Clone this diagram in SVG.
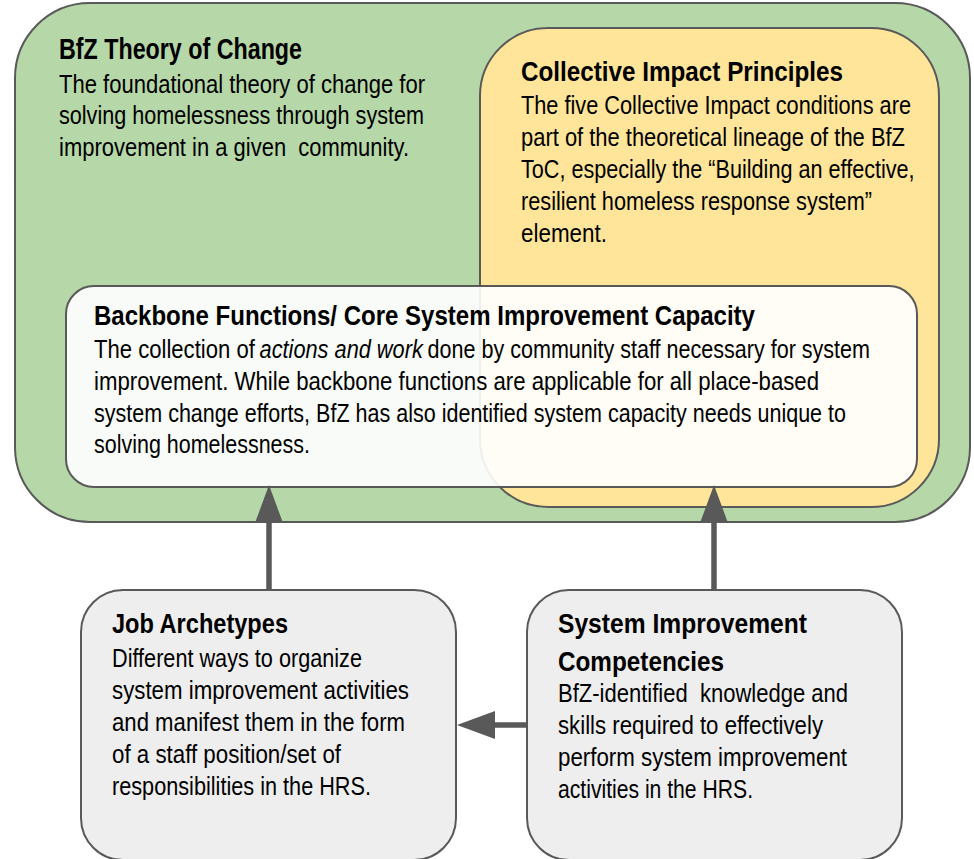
<svg xmlns="http://www.w3.org/2000/svg" width="974" height="859" viewBox="0 0 974 859">
  <style>
    .box { stroke: #595959; stroke-width: 2; }
    .green { fill: #b6d7a8; }
    .yellow { fill: #ffe599; }
    .core { fill: #ffffff; fill-opacity: 0.9; }
    .grey { fill: #eeeeee; }
    text { font-family: "Liberation Sans", Arial, sans-serif; fill: #000000; }
    .title { font-size: 28px; font-weight: bold; }
    .body { font-size: 25px; }
    .it { font-style: italic; }
    .link { stroke: #595959; stroke-width: 5.5; fill: none; }
  </style>
  <defs>
    <marker id="head" viewBox="0 0 38 28" refX="0" refY="14" markerWidth="38" markerHeight="28" markerUnits="userSpaceOnUse" orient="auto">
      <path d="M0,0 L38,14 L0,28 Z" fill="#595959"/>
    </marker>
  </defs>

  <!-- Outer container: BfZ Theory of Change -->
  <g id="theory-of-change">
    <rect class="box green" x="15" y="3" width="955" height="519" rx="75" ry="75"/>
    <text class="title" x="59" y="59" textLength="243" lengthAdjust="spacingAndGlyphs" style="font-size:29px">BfZ Theory of Change</text>
    <text class="body" x="59" y="93" textLength="366" lengthAdjust="spacingAndGlyphs">The foundational theory of change for</text>
    <text class="body" x="59" y="124" textLength="365" lengthAdjust="spacingAndGlyphs">solving homelessness through system</text>
    <text class="body" x="59" y="156" textLength="350" lengthAdjust="spacingAndGlyphs" xml:space="preserve">improvement in a given  community.</text>
  </g>

  <!-- Collective Impact Principles -->
  <g id="collective-impact">
    <rect class="box yellow" x="480" y="28" width="459" height="479" rx="68" ry="68"/>
    <text class="title" x="521" y="81" textLength="322" lengthAdjust="spacingAndGlyphs">Collective Impact Principles</text>
    <text class="body" x="521" y="114" textLength="390" lengthAdjust="spacingAndGlyphs">The five Collective Impact conditions are</text>
    <text class="body" x="521" y="146" textLength="384" lengthAdjust="spacingAndGlyphs">part of the theoretical lineage of the BfZ</text>
    <!-- narrow face: compressed horizontally around its own origin -->
    <text class="body" transform="translate(521 178) scale(0.8 1)" x="0" y="0" textLength="492" lengthAdjust="spacingAndGlyphs">ToC, especially the “Building an effective,</text>
    <text class="body" x="521" y="210" textLength="351" lengthAdjust="spacingAndGlyphs">resilient homeless response system”</text>
    <text class="body" x="521" y="242" textLength="86" lengthAdjust="spacingAndGlyphs">element.</text>
  </g>

  <!-- Backbone Functions / Core System Improvement Capacity -->
  <g id="backbone-functions">
    <rect class="box core" x="66" y="286" width="851" height="201" rx="28" ry="28"/>
    <text class="title" x="94" y="325" textLength="661" lengthAdjust="spacingAndGlyphs">Backbone Functions/ Core System Improvement Capacity</text>
    <g transform="translate(94 358) scale(0.8 1)">
      <text class="body" x="0" y="0" textLength="201" lengthAdjust="spacingAndGlyphs">The collection of</text>
      <text class="body it" x="207" y="0" textLength="204" lengthAdjust="spacingAndGlyphs">actions and work</text>
      <text class="body" x="417" y="0" textLength="553" lengthAdjust="spacingAndGlyphs">done by community staff necessary for system</text>
    </g>
    <text class="body" x="94" y="390" textLength="725" lengthAdjust="spacingAndGlyphs">improvement. While backbone functions are applicable for all place-based</text>
    <text class="body" x="94" y="422" textLength="752" lengthAdjust="spacingAndGlyphs">system change efforts, BfZ has also identified system capacity needs unique to</text>
    <text class="body" x="94" y="453" textLength="216" lengthAdjust="spacingAndGlyphs">solving homelessness.</text>
  </g>

  <!-- Job Archetypes -->
  <g id="job-archetypes">
    <rect class="box grey" x="81" y="590" width="375" height="270" rx="42" ry="42"/>
    <text class="title" x="112" y="633" textLength="176" lengthAdjust="spacingAndGlyphs">Job Archetypes</text>
    <text class="body" x="112" y="667" textLength="250" lengthAdjust="spacingAndGlyphs">Different ways to organize</text>
    <text class="body" x="112" y="699" textLength="297" lengthAdjust="spacingAndGlyphs">system improvement activities</text>
    <text class="body" x="112" y="731" textLength="293" lengthAdjust="spacingAndGlyphs">and manifest them in the form</text>
    <text class="body" x="112" y="763" textLength="229" lengthAdjust="spacingAndGlyphs">of a staff position/set of</text>
    <text class="body" x="112" y="795" textLength="259" lengthAdjust="spacingAndGlyphs">responsibilities in the HRS.</text>
  </g>

  <!-- System Improvement Competencies -->
  <g id="system-improvement-competencies">
    <rect class="box grey" x="527" y="590" width="375" height="270" rx="42" ry="42"/>
    <text class="title" x="558" y="633" textLength="249" lengthAdjust="spacingAndGlyphs">System Improvement</text>
    <text class="title" x="558" y="671" textLength="166" lengthAdjust="spacingAndGlyphs">Competencies</text>
    <text class="body" x="558" y="702" textLength="290" lengthAdjust="spacingAndGlyphs" xml:space="preserve">BfZ-identified  knowledge and</text>
    <text class="body" x="558" y="734" textLength="265" lengthAdjust="spacingAndGlyphs">skills required to effectively</text>
    <text class="body" x="558" y="766" textLength="289" lengthAdjust="spacingAndGlyphs">perform system improvement</text>
    <text class="body" x="558" y="798" textLength="195" lengthAdjust="spacingAndGlyphs">activities in the HRS.</text>
  </g>

  <!-- Connectors -->
  <g id="connectors">
    <line class="link" x1="269" y1="590" x2="269" y2="523" marker-end="url(#head)"/>
    <line class="link" x1="714" y1="590" x2="714" y2="523" marker-end="url(#head)"/>
    <line class="link" x1="527" y1="725" x2="495" y2="725" marker-end="url(#head)"/>
  </g>
</svg>
